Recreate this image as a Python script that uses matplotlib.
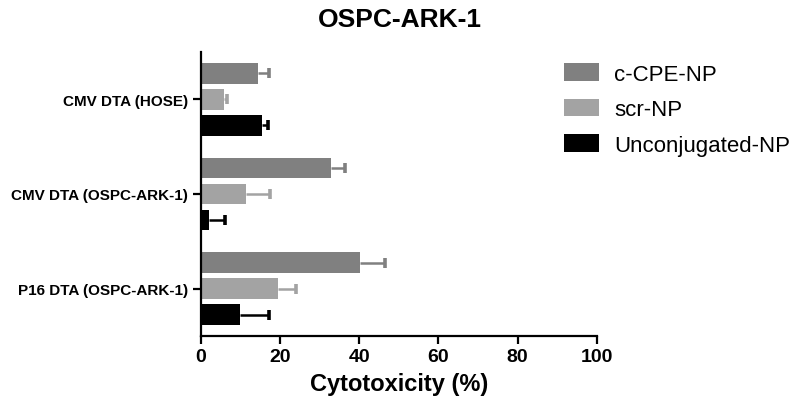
import numpy as np
import matplotlib
matplotlib.use('Agg')
import matplotlib.pyplot as plt

plt.rcParams['font.family'] = ['Liberation Sans', 'DejaVu Sans']

categories = ['CMV DTA (HOSE)', 'CMV DTA (OSPC-ARK-1)', 'P16 DTA (OSPC-ARK-1)']
series = ['c-CPE-NP', 'scr-NP', 'Unconjugated-NP']
colors = ['#808080', '#a3a3a3', '#000000']

# mean cytotoxicity (%) and upper error, per category
ccpe_mean = [14.5, 32.8, 40.3]
ccpe_err = [2.7, 3.6, 6.1]
scr_mean = [5.9, 11.4, 19.5]
scr_err = [0.8, 6.2, 4.5]
uncon_mean = [15.5, 2.0, 9.8]
uncon_err = [1.5, 4.2, 7.4]

means = [ccpe_mean, scr_mean, uncon_mean]
errs = [ccpe_err, scr_err, uncon_err]

fig = plt.figure(figsize=(8, 4.14), dpi=100)
ax = fig.add_axes([0.251, 0.186, 0.495, 0.686])

y = np.arange(len(categories))
step = 0.275
height = 0.22
for k in range(3):
    pos = y + (k - 1) * step
    m = np.array(means[k])
    top = m + np.array(errs[k])
    ax.barh(pos, m, height=height, color=colors[k], label=series[k], zorder=2)
    # one-sided error bar: line from bar end to cap
    ax.hlines(pos, m, top, color=colors[k], linewidth=1.8, zorder=1)
    ax.plot(top, pos, linestyle='none', marker='|', markersize=7,
            markeredgewidth=2.6, color=colors[k], zorder=1)

ax.set_xlim(0, 100)
ax.set_ylim(2.5, -0.5)
ax.set_xticks([0, 20, 40, 60, 80, 100])
ax.set_yticks(y)
ax.set_yticklabels(categories, fontsize=11, fontweight='bold')
for lab in ax.get_xticklabels():
    lab.set_fontsize(14)
    lab.set_fontweight('bold')

for s in ['top', 'right']:
    ax.spines[s].set_visible(False)
for s in ['left', 'bottom']:
    ax.spines[s].set_linewidth(1.6)
ax.tick_params(axis='both', direction='out', length=6, width=1.6, pad=3)

ax.set_xlabel('Cytotoxicity (%)', fontsize=17, fontweight='bold', labelpad=5)
fig.suptitle('OSPC-ARK-1', fontsize=19, fontweight='bold', x=0.5, y=0.98)

ax.legend(loc='upper left', bbox_to_anchor=(0.705, 0.845), bbox_transform=fig.transFigure,
          frameon=False, fontsize=16, handlelength=1.58, handleheight=0.86,
          labelspacing=0.62, handletextpad=0.68, borderpad=0, borderaxespad=0)

fig.savefig('out.png', dpi=100)
